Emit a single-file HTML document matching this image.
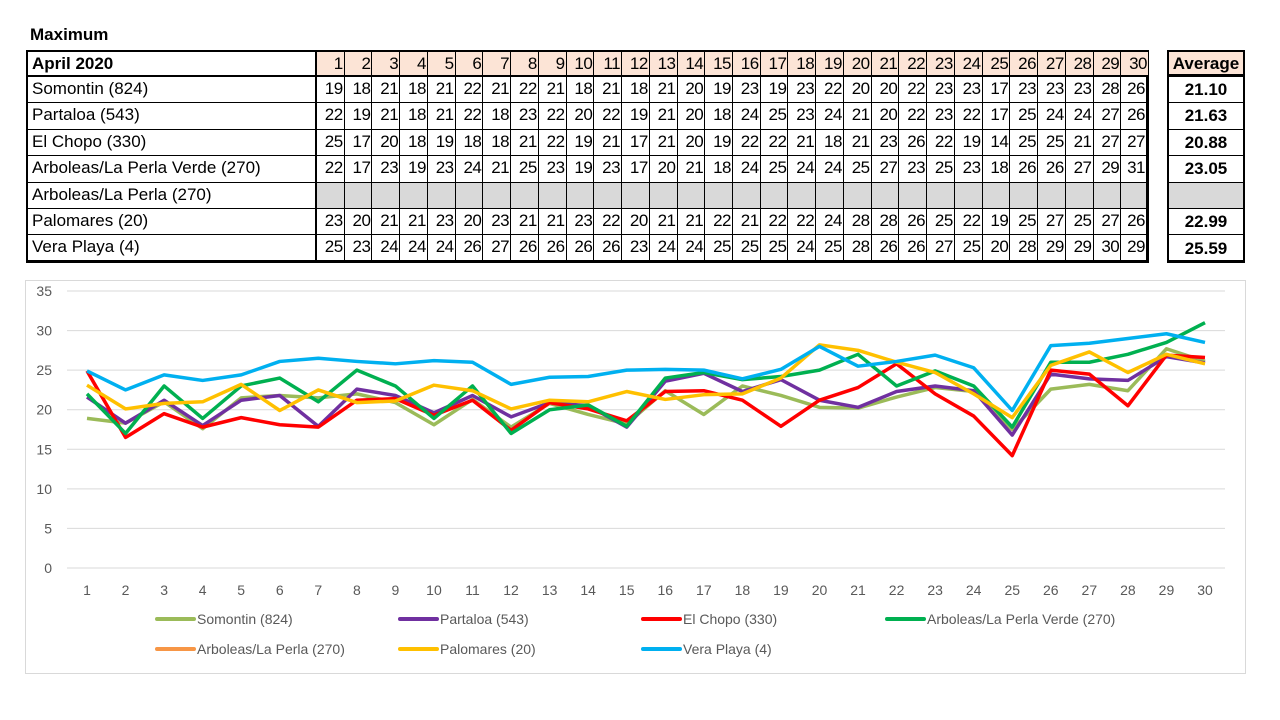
<!DOCTYPE html>
<html><head><meta charset="utf-8">
<style>
body{margin:0;width:1280px;height:720px;background:#fff;font-family:"Liberation Sans",sans-serif;position:relative;overflow:hidden}
.abs{position:absolute}
.cell{position:absolute;box-sizing:border-box;border:1px solid #000;font-size:17px;line-height:23px;color:#000;white-space:nowrap;overflow:hidden}
</style></head><body>
<div class="abs" style="left:30px;top:25px;font-weight:bold;font-size:17px">Maximum</div>
<div id="tbl"></div>
<div class="abs" style="left:25px;top:280px;width:1221px;height:394px;border:1px solid #d9d9d9;box-sizing:border-box"></div>
<svg id="chart" class="abs" style="left:0;top:0" width="1280" height="720"></svg>
<script>
const days=[1,2,3,4,5,6,7,8,9,10,11,12,13,14,15,16,17,18,19,20,21,22,23,24,25,26,27,28,29,30];
const stationNames=["Somontin (824)","Partaloa (543)","El Chopo (330)","Arboleas/La Perla Verde (270)","Arboleas/La Perla (270)","Palomares (20)","Vera Playa (4)"];
const tblSomontin=[19,18,21,18,21,22,21,22,21,18,21,18,21,20,19,23,19,23,22,20,20,22,23,23,17,23,23,23,28,26];
const tblPartaloa=[22,19,21,18,21,22,18,23,22,20,22,19,21,20,18,24,25,23,24,21,20,22,23,22,17,25,24,24,27,26];
const tblChopo=[25,17,20,18,19,18,18,21,22,19,21,17,21,20,19,22,22,21,18,21,23,26,22,19,14,25,25,21,27,27];
const tblVerde=[22,17,23,19,23,24,21,25,23,19,23,17,20,21,18,24,25,24,24,25,27,23,25,23,18,26,26,27,29,31];
const tblPerla=[];
const tblPalomares=[23,20,21,21,23,20,23,21,21,23,22,20,21,21,22,21,22,22,24,28,28,26,25,22,19,25,27,25,27,26];
const tblVera=[25,23,24,24,24,26,27,26,26,26,26,23,24,24,25,25,25,24,25,28,26,26,27,25,20,28,29,29,30,29];
const averages=["21.10","21.63","20.88","23.05","","22.99","25.59"];

const somontin=[18.9,18.3,21,17.6,21.5,21.8,21.5,22,20.9,18.1,21.3,17.8,20.8,19.4,18.2,22.4,19.4,23,21.8,20.3,20.2,21.6,22.8,22.3,17.5,22.6,23.2,22.4,27.7,26.1];
const partaloa=[21.6,18.3,21.2,18,21.2,21.8,17.9,22.6,21.8,19.6,21.8,19.1,20.9,20.5,17.8,23.6,24.6,22.3,23.8,21.2,20.3,22.3,23,22.4,16.8,24.5,23.9,23.7,26.7,25.9];
const elChopo=[24.9,16.5,19.5,17.8,19,18.1,17.8,21.2,21.4,19.3,21.2,17.4,20.9,20.1,18.6,22.3,22.4,21.2,17.9,21.2,22.8,25.8,22,19.2,14.2,25,24.5,20.5,26.9,26.6];
const perlaVerde=[22,17,23,18.9,23,24,21,25,23,18.9,23,17,20,20.6,17.9,24,24.7,23.8,24.2,25,27,23,24.9,23,17.8,26,26,27,28.5,31];
const perla=[];
const palomares=[23.1,20.1,20.8,21,23.2,19.9,22.5,20.9,21.1,23.1,22.4,20.1,21.2,21,22.3,21.3,21.9,22,24,28.2,27.5,26,24.7,22,19,25.6,27.3,24.7,27,25.8];
const veraPlaya=[24.9,22.5,24.4,23.7,24.4,26.1,26.5,26.1,25.8,26.2,26,23.2,24.1,24.2,25,25.1,25,23.9,25.1,28,25.5,26.1,26.9,25.3,19.9,28.1,28.4,29,29.6,28.5];
const yTicks=[0,5,10,15,20,25,30,35];

const tbl=document.getElementById('tbl');
const rowsData=[tblSomontin,tblPartaloa,tblChopo,tblVerde,tblPerla,tblPalomares,tblVera];
const rowTop=[50,76,102,129,155,182,208,234,262];
const colL=316,colW=(1148-316)/30;
function cell(x,y,w,h,txt,style,name){
  const d=document.createElement('div');d.className='cell';
  d.style.left=x+'px';d.style.top=y+'px';d.style.width=w+'px';d.style.height=h+'px';
  d.style.cssText+=style||'';d.textContent=txt;
  
  
  tbl.appendChild(d);
}
cell(26,rowTop[0],290,26,"April 2020","font-weight:bold;padding-left:4px;border-width:2px 1px 1px 2px;",'header-label');
days.forEach((dd,i)=>cell(colL+i*colW,rowTop[0],colW+1,26,dd,"background:#fce4d6;text-align:right;padding-right:1px;letter-spacing:-0.5px;border-top-width:2px;",'day-header'));
cell(1167,rowTop[0],78,26,"Average","background:#fce4d6;text-align:center;font-weight:bold;border-width:2px;",'average-header');
stationNames.forEach((n,r)=>{
  const y=rowTop[r+1],h=rowTop[r+2]-y+1;
  cell(26,y,290,h,n,"padding-left:4px;border-left-width:2px;"+(r==6?"border-bottom-width:3px;":""),'station-label');
  days.forEach((dd,i)=>{
    const v=rowsData[r][i];
    cell(colL+i*colW,y,colW+1,h,v===undefined?"":v,"text-align:right;padding-right:1px;letter-spacing:-0.5px;"+(v===undefined?"background:#d9d9d9;":"")+(i==29?"border-right-width:3px;":"")+(r==6?"border-bottom-width:3px;":""),'value-cell');
  });
  cell(1167,y,78,h,averages[r],"text-align:center;font-weight:bold;line-height:"+(h-2)+"px;border-left-width:2px;border-right-width:2px;"+(averages[r]===""?"background:#d9d9d9;":"")+(r==6?"border-bottom-width:3px;":""),'average-cell');
});

const svg=document.getElementById('chart');const NS='http://www.w3.org/2000/svg';
const X=d=>87+(d-1)*(1205-87)/29;
const Y=v=>568-v*(568-291)/35;
function el(t,a){const e=document.createElementNS(NS,t);for(const k in a)e.setAttribute(k,a[k]);svg.appendChild(e);return e;}
yTicks.forEach(t=>{
  const g=el('line',{x1:67,x2:1225,y1:Y(t),y2:Y(t),stroke:'#d9d9d9','stroke-width':1});
  
  
  const tx=el('text',{x:52,y:Y(t)+5,'text-anchor':'end','font-size':14,fill:'#595959','font-family':'Liberation Sans'});
  tx.textContent=t;
  
  
});
days.forEach(d=>{
  const tx=el('text',{x:X(d),y:595,'text-anchor':'middle','font-size':14,fill:'#595959','font-family':'Liberation Sans'});
  tx.textContent=d;
  
  
});
const series=[somontin,partaloa,elChopo,perlaVerde,perla,palomares,veraPlaya];
const colors=['#9bbb59','#7030a0','#ff0000','#00b050','#f79646','#ffc000','#00b0f0'];
series.forEach((s,i)=>{
  if(!s.length)return;
  const p=el('polyline',{points:s.map((v,j)=>X(days[j])+','+Y(v)).join(' '),fill:'none',stroke:colors[i],'stroke-width':3.5,'stroke-linejoin':'round'});
  
  
});
const legX=[157,400,643,887,157,400,643],legY=[619,619,619,619,649,649,649];
stationNames.forEach((n,i)=>{
  const l=el('line',{x1:legX[i],x2:legX[i]+37,y1:legY[i],y2:legY[i],stroke:colors[i],'stroke-width':4,'stroke-linecap':'round'});
  
  
  const t=el('text',{x:legX[i]+40,y:legY[i]+5,'font-size':14,fill:'#595959','font-family':'Liberation Sans'});
  t.textContent=n;
  
  
});
</script>
</body></html>
